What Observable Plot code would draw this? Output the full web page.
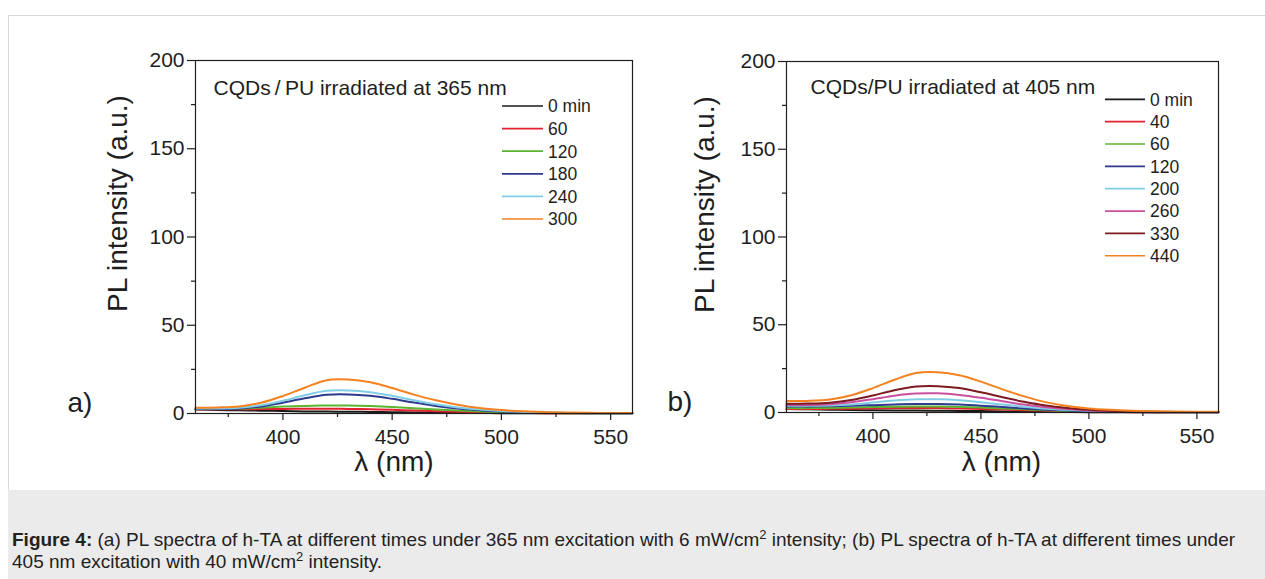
<!DOCTYPE html>
<html>
<head>
<meta charset="utf-8">
<script src="https://cdn.jsdelivr.net/npm/d3@7"></script>
<script src="https://cdn.jsdelivr.net/npm/@observablehq/plot@0.6"></script>
<style>
  body { margin: 0; background: #fff; font-family: "Liberation Sans", Arial, sans-serif; }
  #wrap { position: relative; width: 1265px; height: 579px; overflow: hidden; }
  #border { position: absolute; left: 8px; top: 15px; width: 1270px; height: 600px; border-left: 1px solid #d9d9d9; border-top: 1px solid #d9d9d9; }
  #left { position: absolute; left: 0; top: 0; }
  #right { position: absolute; left: 640px; top: 0; }
  #caption { position: absolute; left: 8px; top: 490px; width: 1257px; height: 89px; background: #ebebeb;
             box-sizing: border-box; padding: 39px 0 0 4px; font-size: 19px; line-height: 22px; color: #222; white-space: nowrap; }
  #caption sup { font-size: 13px; vertical-align: 7px; line-height: 0; }
</style>
</head>
<body>
<div id="wrap">
  <div id="border"></div>
  <div id="left"></div>
  <div id="right"></div>
  <div id="caption"><b>Figure 4:</b> (a) PL spectra of h-TA at different times under 365 nm excitation with 6 mW/cm<sup>2</sup> intensity; (b) PL spectra of h-TA at different times under<br>405 nm excitation with 40 mW/cm<sup>2</sup> intensity.</div>
</div>
<script>
// ---------- shared axis data ----------
const wavelength = [360, 370, 380, 390, 400, 410, 420, 430, 440, 450, 460, 470, 480, 490, 500, 510, 520, 530, 540, 550, 560];
const xTicks = [400, 450, 500, 550];
const xMinorTicks = [375, 425, 475, 525];
const yTicks = [0, 50, 100, 150, 200];
const yMinorTicks = [25, 75, 125, 175];

// ---------- panel a: 365 nm ----------
const titleA = "CQDs\u2009/\u2009PU irradiated at 365 nm";
const seriesA = ["0 min", "60", "120", "180", "240", "300"];
const colorsA = ["#1a1a1a", "#e5202e", "#5bb531", "#2e3a8c", "#80cde6", "#f58220"];
const a0   = [2.2, 2.0, 1.8, 1.6, 1.4, 1.2, 1.1, 1.0, 0.9, 0.7, 0.6, 0.5, 0.4, 0.3, 0.2, 0.2, 0.1, 0.1, 0.1, 0.1, 0.1];
const a60  = [2.4, 2.4, 2.4, 2.5, 2.6, 2.7, 2.7, 2.6, 2.4, 2.1, 1.7, 1.3, 1.0, 0.7, 0.5, 0.3, 0.2, 0.1, 0.1, 0.1, 0.1];
const a120 = [2.6, 2.6, 2.8, 3.3, 3.9, 4.3, 4.5, 4.5, 4.2, 3.7, 3.0, 2.3, 1.7, 1.2, 0.8, 0.5, 0.3, 0.2, 0.2, 0.1, 0.1];
const a180 = [2.6, 2.6, 2.9, 4.0, 6.1, 8.6, 10.6, 10.8, 10.0, 8.3, 6.2, 4.3, 2.8, 1.8, 1.1, 0.7, 0.4, 0.3, 0.2, 0.2, 0.2];
const a240 = [2.8, 2.8, 3.2, 4.7, 7.2, 10.3, 12.9, 13.1, 12.1, 10.0, 7.5, 5.2, 3.4, 2.2, 1.4, 0.9, 0.5, 0.3, 0.2, 0.2, 0.2];
const a300 = [3.2, 3.4, 4.0, 6.1, 9.9, 14.6, 18.9, 19.2, 17.7, 14.4, 10.7, 7.5, 5.0, 3.1, 2.0, 1.3, 0.8, 0.5, 0.4, 0.3, 0.3];
const valuesA = [a0, a60, a120, a180, a240, a300];

// ---------- panel b: 405 nm ----------
const titleB = "CQDs/PU irradiated at 405 nm";
const seriesB = ["0 min", "40", "60", "120", "200", "260", "330", "440"];
const colorsB = ["#1a1a1a", "#e5202e", "#5bb531", "#2e3a8c", "#80cde6", "#c94f9f", "#7d1b1f", "#f58220"];
const b0   = [2.0, 1.8, 1.6, 1.4, 1.3, 1.2, 1.1, 1.0, 0.9, 0.8, 0.6, 0.5, 0.4, 0.3, 0.2, 0.2, 0.1, 0.1, 0.1, 0.1, 0.1];
const b40  = [2.0, 2.0, 2.1, 2.2, 2.4, 2.5, 2.5, 2.5, 2.3, 2.0, 1.7, 1.3, 1.0, 0.7, 0.5, 0.3, 0.2, 0.1, 0.1, 0.1, 0.1];
const b60  = [2.5, 2.5, 2.6, 2.8, 3.1, 3.3, 3.4, 3.4, 3.2, 2.8, 2.3, 1.8, 1.3, 0.9, 0.6, 0.4, 0.3, 0.2, 0.1, 0.1, 0.1];
const b120 = [3.4, 3.4, 3.5, 3.8, 4.2, 4.6, 4.8, 4.8, 4.5, 3.9, 3.1, 2.3, 1.6, 1.1, 0.7, 0.5, 0.3, 0.2, 0.2, 0.1, 0.1];
const b200 = [3.8, 3.8, 4.0, 4.6, 5.7, 6.8, 7.5, 7.5, 7.0, 5.9, 4.5, 3.3, 2.2, 1.5, 1.0, 0.6, 0.4, 0.3, 0.2, 0.2, 0.2];
const b260 = [4.3, 4.3, 4.7, 5.8, 7.6, 9.6, 10.8, 10.9, 10.0, 8.4, 6.4, 4.5, 3.0, 2.0, 1.2, 0.8, 0.5, 0.3, 0.2, 0.2, 0.2];
const b330 = [5.0, 5.1, 5.6, 7.1, 9.7, 12.7, 14.8, 15.0, 13.9, 11.5, 8.7, 6.1, 4.0, 2.6, 1.6, 1.0, 0.6, 0.4, 0.3, 0.3, 0.3];
const b440 = [6.5, 6.6, 7.4, 9.8, 13.9, 18.7, 22.5, 22.9, 21.2, 17.6, 13.2, 9.2, 5.9, 3.7, 2.3, 1.5, 1.0, 0.7, 0.5, 0.4, 0.4];
const valuesB = [b0, b40, b60, b120, b200, b260, b330, b440];

function tidy(series, values) {
  const out = [];
  series.forEach((s, k) => values[k].forEach((v, i) => out.push({series: s, wl: wavelength[i], v})));
  return out;
}

function panel(opts) {
  const {series, colors, values, title, tag, width, marginLeft, marginRight, marginTop, marginBottom,
         titleDx, titleDy, yLabDx, yLabDy, xLabDx, xLabDy, tagDx, legend} = opts;
  const data = tidy(series, values);
  const plot = Plot.plot({
    width, height: 490, marginLeft, marginRight, marginTop, marginBottom,
    style: {background: "transparent", fontFamily: "'Liberation Sans', Arial, sans-serif", fontSize: "21px", color: "#1e1e1e", overflow: "visible"},
    x: {domain: [360, 560]},
    y: {domain: [0, 200]},
    color: {domain: series, range: colors},
    marks: [
      Plot.line(data, {x: "wl", y: "v", z: "series", stroke: "series", strokeWidth: 2, curve: "catmull-rom"}),
      Plot.frame({stroke: "#1e1e1e", strokeWidth: 1.2}),
      Plot.axisX({ticks: xTicks, tickSize: 7, tickPadding: 9, label: null, strokeWidth: 1.2, fontSize: 21}),
      Plot.axisX(xMinorTicks, {tickSize: 4, tickFormat: () => "", label: null, strokeWidth: 1.2}),
      Plot.axisY({ticks: yTicks, tickSize: 8, tickPadding: 3, label: null, strokeWidth: 1.2, fontSize: 21}),
      Plot.axisY(yMinorTicks, {tickSize: 4, tickFormat: () => "", label: null, strokeWidth: 1.2}),
      Plot.text([title], {frameAnchor: "top-left", text: d => d, textAnchor: "start", lineAnchor: "middle", dx: titleDx, dy: titleDy, fontSize: 21}),
      Plot.text(["PL intensity (a.u.)"], {frameAnchor: "left", text: d => d, rotate: -90, textAnchor: "middle", lineAnchor: "middle", dx: yLabDx, dy: yLabDy, fontSize: 28}),
      Plot.text(["\u03bb (nm)"], {frameAnchor: "bottom", text: d => d, textAnchor: "middle", lineAnchor: "middle", dx: xLabDx, dy: xLabDy, fontSize: 28}),
      Plot.text([tag], {frameAnchor: "bottom-left", text: d => d, textAnchor: "start", lineAnchor: "middle", dx: tagDx, dy: -10, fontSize: 28})
    ]
  });
  // legend inside the plot area
  const svg = d3.select(plot);
  const g = svg.append("g").attr("font-size", 17.5).attr("fill", "#1e1e1e").attr("text-anchor", "start");
  series.forEach((s, i) => {
    const y = legend.y0 + i * legend.step;
    g.append("line").attr("x1", legend.x1).attr("x2", legend.x2).attr("y1", y).attr("y2", y)
      .attr("stroke", colors[i]).attr("stroke-width", 1.7);
    g.append("text").attr("x", legend.tx).attr("y", y).attr("dy", "0.36em").text(s);
  });
  return plot;
}

document.getElementById("left").appendChild(panel({
  series: seriesA, colors: colorsA, values: valuesA, title: titleA, tag: "a)",
  width: 640, marginLeft: 195, marginRight: 8, marginTop: 60, marginBottom: 77,
  titleDx: 18, titleDy: 27.5, yLabDx: -77, yLabDy: -33.5, xLabDx: -20, xLabDy: 49, tagDx: -128,
  legend: {x1: 502, x2: 543, tx: 548, y0: 106, step: 22.6}
}));

document.getElementById("right").appendChild(panel({
  series: seriesB, colors: colorsB, values: valuesB, title: titleB, tag: "b)",
  width: 625, marginLeft: 146, marginRight: 47, marginTop: 61, marginBottom: 78,
  titleDx: 24, titleDy: 25.5, yLabDx: -81, yLabDy: -32.5, xLabDx: -1, xLabDy: 50, tagDx: -119,
  legend: {x1: 465, x2: 505, tx: 510, y0: 99.3, step: 22.35}
}));
</script>
</body>
</html>
